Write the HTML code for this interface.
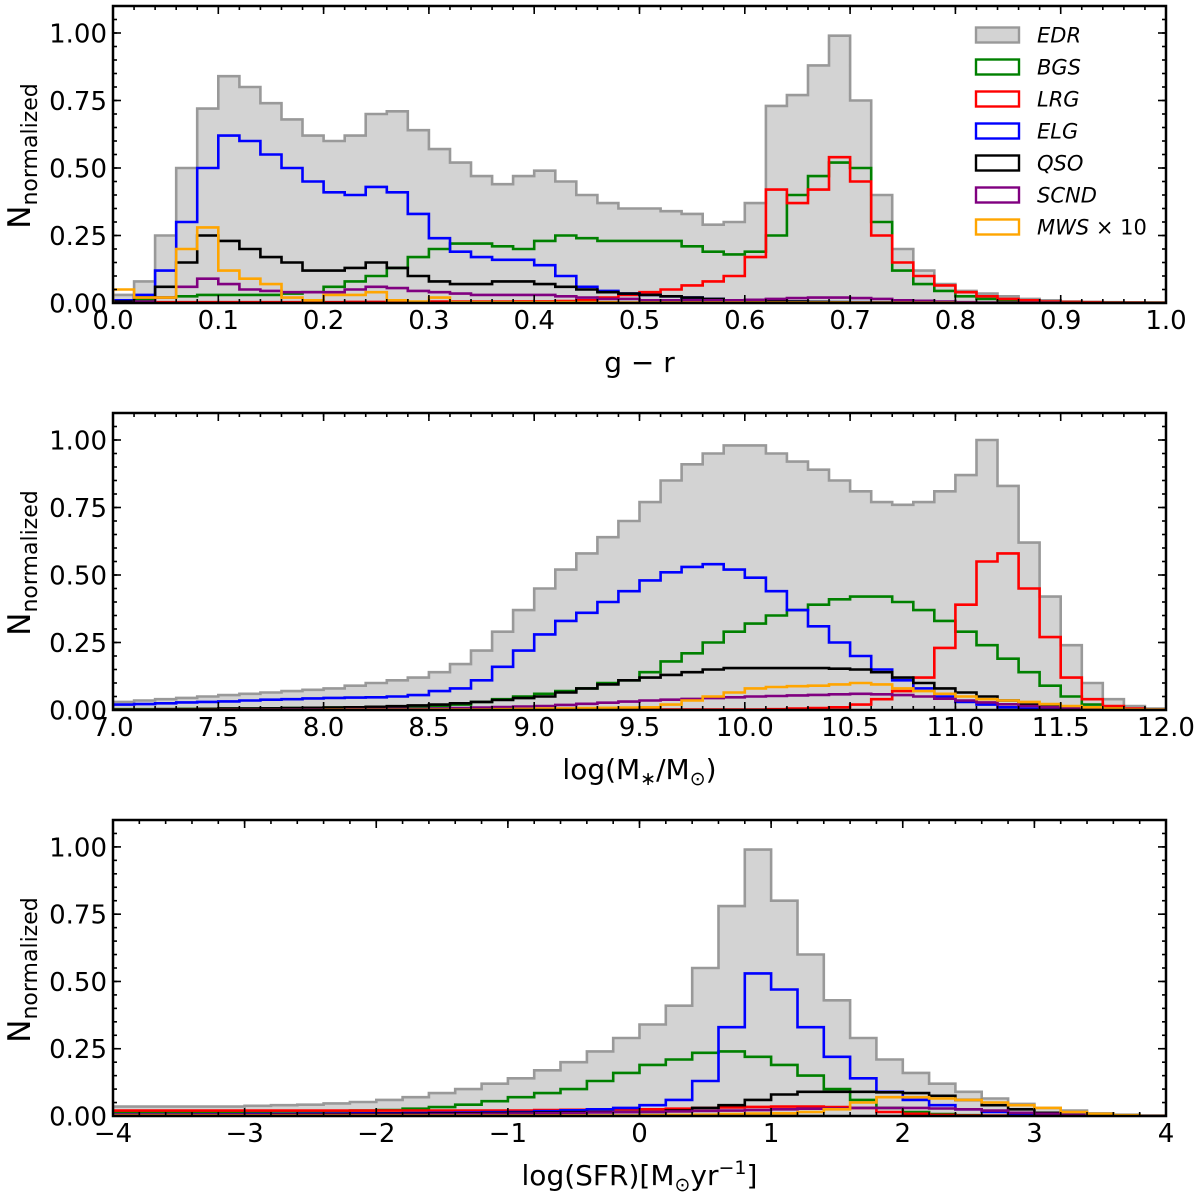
<!DOCTYPE html>
<html><head><meta charset="utf-8"><style>
html,body{margin:0;padding:0;background:#fff;}
svg{display:block;font-family:"DejaVu Sans","Liberation Sans",sans-serif;}
</style></head><body>
<svg id="fig" width="1200" height="1200" viewBox="0 0 1200 1200" xmlns="http://www.w3.org/2000/svg"></svg>
<script>
// ---------- data ----------
const p1Edges = [0, 1]; // range, 50 bins
const p1EDR = [0.03,0.08,0.25,0.50,0.72,0.84,0.80,0.74,0.68,0.62,0.60,0.62,0.70,0.71,0.64,0.57,0.52,0.47,0.44,0.47,0.49,0.45,0.40,0.37,0.35,0.35,0.34,0.33,0.29,0.30,0.37,0.73,0.77,0.88,0.99,0.75,0.40,0.20,0.12,0.07,0.045,0.035,0.025,0.015,0.01,0.005,0.004,0.003,0.002,0.001];
const p1BGS = [0.01,0.01,0.02,0.025,0.03,0.03,0.03,0.03,0.035,0.04,0.06,0.08,0.10,0.13,0.17,0.20,0.22,0.22,0.21,0.20,0.23,0.25,0.24,0.23,0.23,0.23,0.23,0.21,0.19,0.18,0.19,0.25,0.40,0.47,0.52,0.50,0.30,0.12,0.07,0.045,0.025,0.015,0.01,0.005,0.004,0.003,0.002,0.001,0.001,0.001];
const p1LRG = [0.003,0.003,0.003,0.003,0.003,0.003,0.003,0.003,0.003,0.003,0.003,0.004,0.004,0.004,0.004,0.005,0.005,0.005,0.005,0.006,0.006,0.007,0.01,0.02,0.03,0.04,0.05,0.065,0.08,0.10,0.17,0.42,0.37,0.42,0.54,0.45,0.25,0.15,0.10,0.065,0.04,0.025,0.015,0.01,0.005,0.004,0.003,0.002,0.002,0.001];
const p1ELG = [0.01,0.03,0.12,0.30,0.50,0.62,0.60,0.55,0.50,0.45,0.41,0.40,0.43,0.41,0.33,0.24,0.19,0.17,0.16,0.16,0.14,0.10,0.06,0.045,0.035,0.03,0.025,0.02,0.015,0.01,0.008,0.006,0.005,0.004,0.003,0.003,0.002,0.002,0.001,0.001,0.001,0.001,0.001,0.001,0.001,0,0,0,0,0];
const p1QSO = [0.005,0.02,0.06,0.15,0.25,0.23,0.20,0.17,0.15,0.12,0.12,0.13,0.15,0.13,0.10,0.08,0.07,0.07,0.08,0.08,0.07,0.06,0.05,0.04,0.035,0.03,0.025,0.02,0.015,0.01,0.008,0.006,0.005,0.004,0.003,0.002,0.002,0.001,0.001,0.001,0,0,0,0,0,0,0,0,0,0];
const p1SCND = [0,0.005,0.02,0.06,0.09,0.07,0.05,0.045,0.04,0.04,0.04,0.05,0.06,0.055,0.045,0.04,0.035,0.03,0.03,0.03,0.03,0.025,0.02,0.015,0.015,0.01,0.01,0.01,0.01,0.01,0.012,0.015,0.018,0.02,0.02,0.018,0.015,0.01,0.008,0.005,0.003,0.002,0.001,0.001,0,0,0,0,0,0];
const p1MWS = [0.05,0.02,0.02,0.20,0.28,0.12,0.09,0.07,0.02,0.01,0.03,0.03,0.04,0.01,0.005,0.02,0.003,0.003,0.003,0.003,0.003,0.003,0.003,0.003,0.002,0.002,0.002,0.002,0.002,0.002,0.002,0.002,0.002,0.002,0.002,0.002,0.001,0.001,0.001,0.001,0,0,0,0,0,0,0,0,0,0];

const p2Edges = [7, 12];
const p2EDR = [0.03,0.035,0.04,0.045,0.05,0.055,0.06,0.065,0.07,0.075,0.08,0.09,0.10,0.11,0.12,0.14,0.17,0.22,0.29,0.37,0.45,0.52,0.58,0.64,0.70,0.77,0.85,0.91,0.95,0.98,0.98,0.95,0.92,0.89,0.85,0.81,0.77,0.76,0.77,0.81,0.87,1.0,0.83,0.62,0.42,0.24,0.10,0.04,0.015,0.005];
const p2BGS = [0.003,0.003,0.003,0.004,0.004,0.005,0.005,0.006,0.007,0.008,0.009,0.01,0.011,0.012,0.013,0.015,0.02,0.03,0.04,0.05,0.06,0.07,0.08,0.10,0.11,0.14,0.18,0.21,0.25,0.29,0.32,0.35,0.37,0.39,0.41,0.42,0.42,0.40,0.37,0.33,0.29,0.24,0.19,0.14,0.09,0.05,0.02,0.008,0.003,0];
const p2LRG = [0,0,0,0,0,0,0,0,0,0,0,0,0,0,0,0,0.001,0.001,0.001,0.001,0.001,0.001,0.002,0.002,0.002,0.002,0.002,0.002,0.002,0.002,0.002,0.003,0.005,0.007,0.01,0.02,0.04,0.07,0.12,0.23,0.39,0.55,0.58,0.45,0.27,0.12,0.04,0.015,0.005,0.001];
const p2ELG = [0.02,0.022,0.025,0.028,0.03,0.032,0.035,0.038,0.04,0.043,0.045,0.046,0.047,0.05,0.055,0.07,0.08,0.11,0.16,0.22,0.28,0.33,0.36,0.40,0.44,0.48,0.51,0.53,0.54,0.52,0.49,0.44,0.37,0.31,0.25,0.20,0.15,0.11,0.08,0.05,0.03,0.02,0.01,0.005,0.002,0.001,0,0,0,0];
const p2QSO = [0.002,0.002,0.003,0.003,0.004,0.005,0.005,0.006,0.007,0.008,0.009,0.01,0.012,0.014,0.017,0.02,0.025,0.03,0.037,0.044,0.05,0.065,0.08,0.095,0.11,0.12,0.13,0.14,0.15,0.155,0.155,0.155,0.155,0.155,0.153,0.15,0.14,0.12,0.10,0.08,0.065,0.05,0.035,0.02,0.012,0.005,0.002,0.001,0,0];
const p2SCND = [0,0,0,0,0,0.001,0.001,0.001,0.002,0.002,0.002,0.003,0.003,0.004,0.004,0.005,0.007,0.009,0.011,0.013,0.015,0.019,0.023,0.027,0.031,0.035,0.038,0.041,0.044,0.047,0.05,0.052,0.054,0.056,0.058,0.06,0.058,0.055,0.05,0.042,0.035,0.028,0.021,0.015,0.01,0.006,0.003,0.001,0,0];
const p2MWS = [0,0,0,0,0,0,0,0,0,0,0.001,0.001,0.001,0.001,0.001,0.002,0.002,0.002,0.003,0.004,0.005,0.006,0.007,0.008,0.009,0.01,0.02,0.035,0.05,0.065,0.08,0.085,0.088,0.09,0.095,0.10,0.095,0.08,0.07,0.06,0.05,0.04,0.035,0.03,0.022,0.015,0.01,0.005,0.002,0.001];

const p3Edges = [-4, 4];
const p3EDR = [0.035,0.035,0.035,0.035,0.035,0.038,0.04,0.042,0.047,0.052,0.06,0.07,0.085,0.10,0.12,0.14,0.17,0.20,0.24,0.29,0.34,0.41,0.55,0.78,0.99,0.80,0.60,0.43,0.29,0.21,0.16,0.12,0.09,0.065,0.045,0.03,0.02,0.01,0.005,0.002];
const p3BGS = [0.015,0.015,0.015,0.015,0.015,0.016,0.017,0.018,0.019,0.02,0.022,0.027,0.033,0.042,0.055,0.07,0.085,0.10,0.13,0.16,0.19,0.21,0.235,0.24,0.22,0.19,0.15,0.10,0.06,0.03,0.015,0.007,0.003,0.001,0,0,0,0,0,0];
const p3LRG = [0.02,0.02,0.02,0.02,0.02,0.02,0.02,0.02,0.02,0.02,0.02,0.02,0.02,0.02,0.02,0.02,0.022,0.023,0.024,0.025,0.025,0.027,0.03,0.032,0.034,0.035,0.035,0.033,0.03,0.015,0.008,0.004,0.002,0.001,0,0,0,0,0,0];
const p3ELG = [0.005,0.005,0.005,0.006,0.006,0.007,0.007,0.008,0.009,0.01,0.01,0.011,0.012,0.013,0.014,0.015,0.018,0.021,0.025,0.03,0.04,0.06,0.13,0.33,0.53,0.47,0.33,0.22,0.14,0.09,0.06,0.04,0.025,0.015,0.008,0.004,0.002,0.001,0,0];
const p3QSO = [0.005,0.005,0.005,0.005,0.005,0.005,0.006,0.006,0.007,0.007,0.008,0.008,0.009,0.01,0.011,0.012,0.013,0.014,0.015,0.015,0.015,0.02,0.03,0.04,0.06,0.08,0.09,0.09,0.09,0.088,0.085,0.075,0.06,0.04,0.025,0.012,0.005,0.002,0.001,0];
const p3SCND = [0.005,0.005,0.005,0.005,0.005,0.005,0.005,0.005,0.005,0.005,0.005,0.005,0.006,0.007,0.008,0.009,0.01,0.011,0.013,0.014,0.015,0.017,0.019,0.02,0.022,0.025,0.027,0.028,0.03,0.03,0.03,0.028,0.025,0.02,0.012,0.008,0.004,0.002,0.001,0];
const p3MWS = [0.002,0.002,0.002,0.002,0.002,0.002,0.002,0.002,0.002,0.002,0.002,0.002,0.002,0.002,0.002,0.002,0.002,0.002,0.002,0.002,0.003,0.004,0.005,0.007,0.009,0.01,0.015,0.025,0.05,0.07,0.07,0.065,0.06,0.05,0.04,0.03,0.015,0.008,0.003,0];

const seriesNames = ["EDR","BGS","LRG","ELG","QSO","SCND","MWS"];
const seriesColors = ["#999999","green","red","blue","black","purple","orange"];
const legendLabels = ["EDR","BGS","LRG","ELG","QSO","SCND","MWS × 10"];

const p1Ticks = ["0.0","0.1","0.2","0.3","0.4","0.5","0.6","0.7","0.8","0.9","1.0"];
const p2Ticks = ["7.0","7.5","8.0","8.5","9.0","9.5","10.0","10.5","11.0","11.5","12.0"];
const p3Ticks = ["−4","−3","−2","−1","0","1","2","3","4"];
const yTicks = ["0.00","0.25","0.50","0.75","1.00"];
const yTickVals = [0,0.25,0.5,0.75,1.0];

// ---------- drawing ----------
const NS = "http://www.w3.org/2000/svg";
const svg = document.getElementById("fig");
function mk(tag, attrs, parent){
  const e = document.createElementNS(NS, tag);
  for (const k in attrs) e.setAttribute(k, attrs[k]);
  (parent||svg).appendChild(e);
  return e;
}
const AX_L = 113, AX_R = 1166, YMAX = 1.1;

const panels = [
  {key:"color", edges:p1Edges, data:[p1EDR,p1BGS,p1LRG,p1ELG,p1QSO,p1SCND,p1MWS], ticks:p1Ticks, tickVals:p1Ticks.map(Number), minor:0.02, top:6, bottom:303, title:"g − r", legend:true},
  {key:"mass", edges:p2Edges, data:[p2EDR,p2BGS,p2LRG,p2ELG,p2QSO,p2SCND,p2MWS], ticks:p2Ticks, tickVals:p2Ticks.map(Number), minor:0.1, top:413, bottom:710, title:"mass"},
  {key:"sfr", edges:p3Edges, data:[p3EDR,p3BGS,p3LRG,p3ELG,p3QSO,p3SCND,p3MWS], ticks:p3Ticks, tickVals:[-4,-3,-2,-1,0,1,2,3,4], minor:0.2, top:820, bottom:1116, title:"sfr"}
];

panels.forEach((p, pi) => {
  const g = mk("g", {});
  
  
  const x0 = p.edges[0], x1 = p.edges[1];
  const sx = v => AX_L + (v - x0) / (x1 - x0) * (AX_R - AX_L);
  const y0 = p.bottom, yUnit = (p.bottom - p.top) / YMAX;
  const sy = v => y0 - v * yUnit;
  const clipId = "clip" + pi;
  const defs = mk("defs", {}, g);
  const cp = mk("clipPath", {id: clipId}, defs);
  mk("rect", {x: AX_L, y: p.top, width: AX_R - AX_L, height: p.bottom - p.top}, cp);
  const plot = mk("g", {"clip-path": "url(#" + clipId + ")"}, g);

  // draw series (EDR first filled)
  p.data.forEach((arr, si) => {
    const n = arr.length, w = (x1 - x0) / n;
    let d = "M" + sx(x0).toFixed(1) + "," + sy(0).toFixed(1);
    for (let i = 0; i < n; i++) {
      const yy = sy(arr[i]).toFixed(1);
      d += " L" + sx(x0 + i * w).toFixed(1) + "," + yy + " L" + sx(x0 + (i + 1) * w).toFixed(1) + "," + yy;
    }
    d += " L" + sx(x1).toFixed(1) + "," + sy(0).toFixed(1);
    const path = mk("path", {d: d, fill: si === 0 ? "#d3d3d3" : "none", stroke: seriesColors[si], "stroke-width": 2.6, "stroke-linejoin": "miter"}, plot);
    
    
  });

  // frame
  const frame = mk("rect", {x: AX_L, y: p.top, width: AX_R - AX_L, height: p.bottom - p.top, fill: "none", stroke: "#000", "stroke-width": 2.5}, g);
  
  

  // x ticks
  const tk = mk("g", {stroke: "#000", "stroke-width": 1.6}, g);
  const nMinor = Math.round((x1 - x0) / p.minor);
  for (let i = 0; i <= nMinor; i++) {
    const xx = sx(x0 + i * p.minor);
    mk("line", {x1: xx, y1: p.bottom, x2: xx, y2: p.bottom - 4}, tk);
    mk("line", {x1: xx, y1: p.top, x2: xx, y2: p.top + 4}, tk);
  }
  p.tickVals.forEach((v, i) => {
    const xx = sx(v);
    mk("line", {x1: xx, y1: p.bottom, x2: xx, y2: p.bottom - 8}, tk);
    mk("line", {x1: xx, y1: p.top, x2: xx, y2: p.top + 8}, tk);
    const t = mk("text", {x: xx, y: p.bottom + 26, "text-anchor": "middle", "font-size": 26, fill: "#000"}, g);
    t.textContent = p.ticks[i];
    
    
  });
  // y ticks
  for (let i = 0; i <= 22; i++) {
    const yy = sy(i * 0.05);
    mk("line", {x1: AX_L, y1: yy, x2: AX_L + 4, y2: yy}, tk);
    mk("line", {x1: AX_R, y1: yy, x2: AX_R - 4, y2: yy}, tk);
  }
  yTickVals.forEach((v, i) => {
    const yy = sy(v);
    mk("line", {x1: AX_L, y1: yy, x2: AX_L + 8, y2: yy}, tk);
    mk("line", {x1: AX_R, y1: yy, x2: AX_R - 8, y2: yy}, tk);
    const t = mk("text", {x: 107, y: yy + 9.5, "text-anchor": "end", "font-size": 26, fill: "#000"}, g);
    t.textContent = yTicks[i];
    
    
  });

  // y title
  const cy = p.top + 150;
  const yt = mk("text", {x: 30, y: cy, transform: "rotate(-90 30 " + cy + ")", "text-anchor": "middle", "font-size": 31, fill: "#000"}, g);
  
  
  yt.innerHTML = 'N<tspan font-size="22" dy="7">normalized</tspan>';

  // x title
  const xt = mk("text", {x: 639.5, y: p.bottom + 69, "text-anchor": "middle", "font-size": 28, fill: "#000"}, g);
  
  
  if (p.key === "color") xt.textContent = "g − r";
  else if (p.key === "mass") xt.innerHTML = 'log(M<tspan font-size="19" dy="6">∗</tspan><tspan dy="-6">/M</tspan><tspan font-size="19" dy="6">⊙</tspan><tspan dy="-6">)</tspan>';
  else xt.innerHTML = 'log(SFR)[M<tspan font-size="19" dy="6">⊙</tspan><tspan dy="-6">yr</tspan><tspan font-size="19" dy="-11">−1</tspan><tspan dy="11">]</tspan>';

  // legend
  if (p.legend) {
    const lg = mk("g", {}, g);
    
    
    legendLabels.forEach((lab, i) => {
      const cyy = 35 + i * 32;
      const e = mk("g", {}, lg);
      
      
      mk("rect", {x: 976, y: cyy - 7.5, width: 43, height: 15, fill: i === 0 ? "#d3d3d3" : "none", stroke: seriesColors[i], "stroke-width": 2.4}, e);
      const t = mk("text", {x: 1037, y: cyy + 7.5, "font-size": 21, "font-style": "italic", fill: "#000"}, e);
      if (i === 6) t.innerHTML = 'MWS<tspan font-style="normal"> × 10</tspan>';
      else t.textContent = lab;
    });
  }
});
</script>
</body></html>
